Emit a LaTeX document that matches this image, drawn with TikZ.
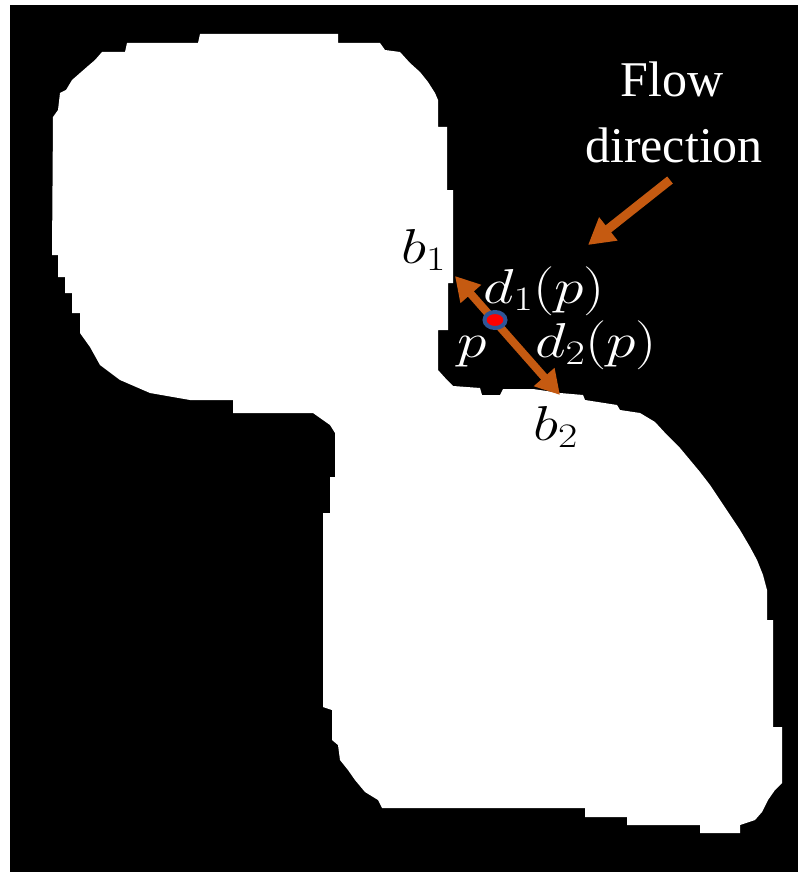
\RequirePackage{fix-cm}
\documentclass[tikz,border=0pt]{standalone}
\usepackage{fontspec}
\newfontfamily\flowfont{Liberation Serif}
\usetikzlibrary{arrows.meta,shapes.geometric}
\definecolor{arroworange}{RGB}{197,90,17}
\definecolor{dotblue}{RGB}{47,85,151}
\newcommand{\widemath}[1]{\scalebox{1.22}[1]{$#1$}}
\tikzset{
  flowarrow/.style={draw=arroworange, line width=9pt,
    -{Triangle[length=26pt,width=28pt]}},
  gaparrow/.style={draw=arroworange, line width=8pt,
    {Triangle[length=24pt,width=26pt]}-{Triangle[length=24pt,width=26pt]}, shorten <=0pt, shorten >=0pt},
  mathlabel/.style={inner sep=0pt, anchor=base west, font=\fontsize{49}{58}\selectfont},
  flowlabel/.style={inner sep=0pt, anchor=base, text=white, font=\flowfont\fontsize{50}{60}\selectfont},
  pointdot/.style={ellipse, draw=dotblue, fill=red, line width=4pt,
    minimum width=21pt, minimum height=16pt, inner sep=0pt}
}
\begin{document}
\begin{tikzpicture}[x=1pt,y=-1pt]
\useasboundingbox (0,0) rectangle (798,872);
\fill[white] (0,0) rectangle (798,872);
\fill[black] (10,5) rectangle (798,872);

% binary mask of the two lobes joined by a narrow neck
\fill[white]
  (53,117) -- (58,110) -- (60,93) -- (66,90) -- (72,80) -- (80,73) -- (88,66)
  -- (95,60) -- (102,52) -- (125,52) -- (127,43) -- (198,43) -- (200,34)
  -- (338,34) -- (338,43) -- (380,43) -- (385,50) -- (400,52) -- (410,63)
  -- (420,72) -- (428,82) -- (435,93) -- (438,100) -- (438,127) -- (447,127)
  -- (447,190) -- (453,190) -- (453,283) -- (448,283) -- (448,330)
  -- (438,330) -- (438,370) -- (447,380) -- (453,386) -- (480,388)
  -- (482,395) -- (500,395) -- (503,389) -- (533,389) -- (560,393)
  -- (583,395) -- (585,400) -- (617,405) -- (620,410) -- (640,413)
  -- (655,422) -- (667,435) -- (680,448) -- (690,460) -- (700,472)
  -- (710,485) -- (720,500) -- (730,515) -- (740,530) -- (750,547)
  -- (757,560) -- (763,575) -- (767,590) -- (767,620) -- (773,620)
  -- (773,727) -- (782,727) -- (782,783) -- (775,790) -- (768,800)
  -- (762,812) -- (755,820) -- (740,825) -- (740,833) -- (700,833)
  -- (700,825) -- (627,825) -- (627,817) -- (585,817) -- (585,808)
  -- (382,808) -- (378,800) -- (365,792) -- (355,780) -- (348,770)
  -- (340,760) -- (338,745) -- (332,740) -- (332,710) -- (323,707)
  -- (323,513) -- (330,513) -- (330,477) -- (335,477) -- (335,433)
  -- (330,425) -- (313,413) -- (233,413) -- (233,400) -- (190,400)
  -- (150,393) -- (120,380) -- (100,365) -- (90,347) -- (80,333)
  -- (80,313) -- (72,313) -- (72,293) -- (65,293) -- (65,277) -- (58,277)
  -- (58,255) -- (52,255) -- cycle;

% flow direction label and arrow
\node[flowlabel] (flow) at (672,97) {Flow};
\node[flowlabel] (dir) at (674,162) {direction};
\coordinate (flowstart) at (670,180);
\coordinate (flowend) at (588,245);
\draw[flowarrow] (flowstart) -- (flowend);

% distance arrow across the neck through p
\coordinate (b1tip) at (455,276);
\coordinate (b2tip) at (560,395);
\draw[gaparrow] (b1tip) -- (b2tip);
\node[pointdot] (pdot) at (495,320) {};

% labels
\node[mathlabel] (b1) at (401,263) {\widemath{b_1}};
\node[mathlabel, text=white] (d1) at (483,303) {\widemath{d_1(p)}};
\node[mathlabel, text=white] (plabel) at (457,357) {\widemath{p}};
\node[mathlabel, text=white] (d2) at (535,357) {\widemath{d_2(p)}};
\node[mathlabel] (b2) at (533,440) {\widemath{b_2}};
\end{tikzpicture}
\end{document}
